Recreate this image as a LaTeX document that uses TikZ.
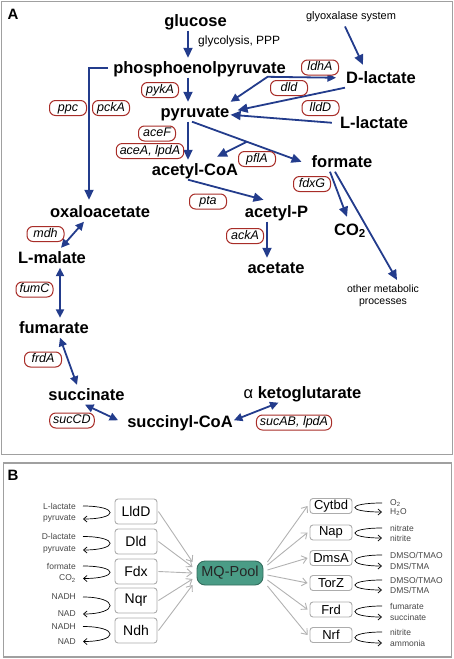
\documentclass[tikz,border=0pt]{standalone}
\usepackage{fontspec}
\setmainfont{Liberation Sans}
\usetikzlibrary{arrows.meta}
\definecolor{pathblue}{RGB}{35,60,140}
\definecolor{genered}{RGB}{168,45,40}
\definecolor{mqteal}{RGB}{74,156,134}
\definecolor{framegray}{RGB}{160,160,160}
\definecolor{sidegray}{RGB}{70,70,70}
\begin{document}
\begin{tikzpicture}[x=1pt, y=-1pt,
	metab/.style={anchor=base, font=\fontsize{16.5}{18}\selectfont\bfseries, inner sep=1pt, text height=14pt, text depth=3.5pt},
	note/.style={font=\fontsize{12}{14}\selectfont, inner sep=1pt},
	gene/.style={draw=genered, line width=1pt, fill=white, rounded corners=6pt, font=\fontsize{12.5}{14}\selectfont\itshape, minimum width=37pt, minimum height=15pt, inner xsep=3.5pt, inner ysep=1pt, text height=8.5pt, text depth=2.5pt},
	flow/.style={draw=pathblue, line width=1.8pt, -{Triangle[length=10pt,width=9pt]}},
	both/.style={flow, {Triangle[length=8.5pt,width=8pt]}-{Triangle[length=8.5pt,width=8pt]}},
	enzbox/.style={draw=gray!65, line width=0.9pt, fill=white, rounded corners=3pt, font=\fontsize{14}{16}\selectfont, minimum width=42pt, minimum height=25pt, inner sep=0pt},
	outbox/.style={enzbox, font=\fontsize{13}{15}\selectfont, minimum height=15pt},
	pool/.style={draw=mqteal!70!black, line width=0.9pt, fill=mqteal, rounded corners=8pt, font=\fontsize{14.5}{16}\selectfont, text=black!85, minimum width=66pt, minimum height=24pt, inner sep=0pt},
	feed/.style={draw=gray!60, line width=0.9pt, -{Straight Barb[length=5pt,width=8pt]}},
	redox/.style={draw=black, line width=0.7pt, -{Straight Barb[length=3.5pt,width=6pt]}},
	sidetext/.style={font=\fontsize{8.5}{10}\selectfont, text=sidegray, inner sep=1pt}]
	\useasboundingbox (0,0) rectangle (454,659);
	%frames
	\draw[framegray, line width=1.2pt] (1.5,1.5) rectangle (452.5,454.5);
	\draw[framegray, line width=1.2pt] (3.5,463) rectangle (451.5,657);
	\node[font=\fontsize{15}{18}\selectfont\bfseries] (labA) at (13,14) {A};
	\node[font=\fontsize{15}{18}\selectfont\bfseries] (labB) at (13,475) {B};
	
	%metabolites
	\node[metab] (glc) at (195.5,26) {glucose};
	\node[metab] (pep) at (199.5,73) {phosphoenolpyruvate};
	\node[metab] (pyr) at (195,117) {pyruvate};
	\node[metab] (accoa) at (195,175) {acetyl-CoA};
	\node[metab] (dlac) at (381,83) {D-lactate};
	\node[metab] (llac) at (374,128) {L-lactate};
	\node[metab] (form) at (342,167) {formate};
	\node[metab] (co2) at (350,235) {CO\textsubscript{2}};
	\node[metab] (acp) at (276.5,217) {acetyl-P};
	\node[metab] (acet) at (276,273) {acetate};
	\node[metab] (oaa) at (100,217) {oxaloacetate};
	\node[metab] (lmal) at (52,263) {L-malate};
	\node[metab] (fum) at (54,333) {fumarate};
	\node[metab] (succ) at (86.5,400) {succinate};
	\node[metab] (succoa) at (180,427) {succinyl-CoA};
	\node[metab] (akg) at (302.5,398) {{\mdseries α} ketoglutarate};
	%notes
	\node[note, anchor=base west] (glyc) at (197,44) {glycolysis, PPP};
	\node[note, font=\fontsize{11}{13}\selectfont, anchor=base] (glyox) at (351,19) {glyoxalase system};
	\node[note, font=\fontsize{10.5}{12}\selectfont, align=center, anchor=north] (other) at (383,284) {other metabolic\\processes};
	
	%reactions
	\coordinate (mainx) at (188,0);
	\draw[flow] (glc.south -| mainx) -- (pep.north -| mainx);
	\draw[flow] (pep.south -| mainx) -- (pyr.north -| mainx);
	\draw[flow] (pyr.south -| mainx) -- (accoa.north -| mainx);
	\draw[flow] ([xshift=-4pt]pep.west) -| ([xshift=-11pt,yshift=2pt]oaa.north);
	\draw[flow] ([xshift=-3pt]pyr.south) -- coordinate (pflsplit) ([xshift=-9pt]form.west);
	\draw[flow] (pflsplit) -- ([xshift=22pt,yshift=3pt]accoa.north);
	\draw[both] (pyr.north east) -- ++(37,-25) -- ([xshift=-9pt]dlac.west);
	\draw[flow] (dlac.south west) -- ([xshift=7pt,yshift=1.5pt]pyr.east);
	\draw[flow] ([xshift=-7pt]llac.west) -- ([yshift=-3pt]pyr.east);
	\draw[flow] ([xshift=-6pt,yshift=-4pt]glyox.south) -- ([xshift=-18pt,yshift=3pt]dlac.north);
	\draw[flow] ([xshift=-12pt]form.south) -- ([xshift=-3pt,yshift=3pt]co2.north);
	\draw[flow] ([xshift=-7pt]form.south) -- ([xshift=14pt,yshift=4pt]other.north);
	\draw[flow] ([xshift=-7pt]accoa.south) -- ([xshift=-13pt,yshift=2pt]acp.north);
	\draw[flow] ([xshift=-9.5pt]acp.south) -- ([xshift=-9pt]acet.north);
	\draw[both] ([xshift=-16pt]oaa.south) -- ([xshift=9pt]lmal.north);
	\draw[both] ([xshift=8pt]lmal.south) -- ([xshift=6pt]fum.north);
	\draw[both] ([xshift=6pt]fum.south) -- ([xshift=-9.5pt]succ.north);
	\draw[both] ([xshift=-1.5pt]succ.south) -- ([xshift=-8pt,yshift=1.5pt]succoa.west);
	\draw[both] ([xshift=-24pt]akg.south) -- ([yshift=1.5pt]succoa.east);
	
	%enzymes
	\foreach \name/\x/\y/\txt in {ppc/68/108/ppc, pcka/111/108/pckA, pyka/160/90/pykA,
		acef/157/133.5/aceF, acea/150/151/{aceA, lpdA}, pfla/257/159/pflA,
		ldha/320/67.5/ldhA, dld/289/88/dld, lldd/320.5/108/lldD, fdxg/312/184/fdxG,
		pta/208/201.5/pta, acka/245/236/ackA, mdh/45.5/234/mdh, fumc/34.5/289.5/fumC,
		frda/43/359.5/frdA, succd/72/420.5/sucCD, sucab/294/422.5/{sucAB, lpdA}}
		\node[gene] (\name) at (\x,\y) {\txt};
	
	%panel B
	\node[pool] (mq) at (230,573) {MQ-Pool};
	\foreach \i/\b/\y/\ta/\ya/\tb/\yb/\dy in {
		1/LldD/511.5/L-lactate/506/pyruvate/519/11,
		2/Dld/541.5/D-lactate/536.5/pyruvate/550/6,
		3/Fdx/571.5/formate/566/CO\textsubscript{2}/578.5/0,
		4/Nqr/600.5/NADH/597/NAD/614/-6,
		5/Ndh/630.5/NADH/626.5/NAD/641.5/-12}
	{
		\node[enzbox] (in\i) at (136,\y) {\b};
		\node[sidetext, anchor=east] (in\i-a) at (77,\ya) {\ta};
		\node[sidetext, anchor=east] (in\i-b) at (77,\yb) {\tb};
		\draw[redox] ([xshift=6pt]in\i-a.east) to[out=0, in=0, distance=36pt] ([xshift=6pt]in\i-b.east);
		\draw[feed] ([xshift=1pt]in\i.east) -- ([xshift=-4pt,yshift=\dy pt]mq.west);
	}
	\foreach \i/\b/\y/\ta/\ya/\tb/\yb/\dy in {
		1/Cytbd/506/O\textsubscript{2}/503/H\textsubscript{2}O/512/11,
		2/Nap/532.5/nitrate/528/nitrite/538/8,
		3/DmsA/558/{DMSO/TMAO}/555/{DMS/TMA}/566/3,
		4/TorZ/583/{DMSO/TMAO}/580/{DMS/TMA}/590/-2,
		5/Frd/609.5/fumarate/606/succinate/617/-7,
		6/Nrf/635/nitrite/632/ammonia/643/-13}
	{
		\node[outbox] (out\i) at (331,\y) {\b};
		\node[sidetext, anchor=west] (out\i-a) at (389,\ya) {\ta};
		\node[sidetext, anchor=west] (out\i-b) at (389,\yb) {\tb};
		\draw[redox] ([xshift=-7pt]out\i-a.west) to[out=180, in=180, distance=36pt] ([xshift=-7pt]out\i-b.west);
		\draw[feed] ([xshift=4pt,yshift=\dy pt]mq.east) -- ([xshift=-2pt]out\i.west);
	}
\end{tikzpicture}
\end{document}
